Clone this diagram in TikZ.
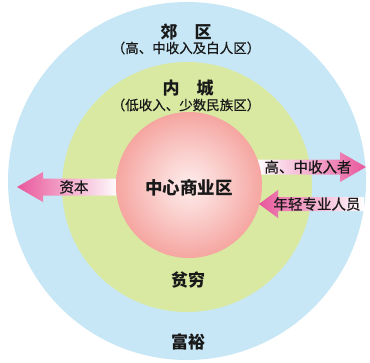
\documentclass[tikz,border=0pt]{standalone}
\usepackage{fontspec}
\newfontfamily\cjk{Noto Sans CJK SC}
\newfontfamily\cjkmoyen[FakeBold=0.6]{Noto Sans CJK SC}
\usetikzlibrary{calc}

\definecolor{bleu}{HTML}{C7E7F6}
\definecolor{vert}{HTML}{D9E9A2}
\definecolor{rouge}{HTML}{EF6A62}
\definecolor{rose}{HTML}{E8579B}
\pgfdeclareradialshading{boule}{\pgfpoint{0bp}{0bp}}{%
  color(0bp)=(rouge!12!white); color(10bp)=(rouge!30!white);
  color(35bp)=(rouge!80!white); color(50bp)=(rouge)}

\begin{document}
\begin{tikzpicture}[x=1pt, y=-1pt, line cap=round,
  titre/.style={inner sep=0pt, text=black!90, font=\cjk\bfseries\fontsize{17}{17}\selectfont},
  soustitre/.style={inner sep=0pt, text=black!90, font=\cjkmoyen\fontsize{13.5}{14}\selectfont},
  fleche/.style={inner sep=0pt, text=black!90, font=\cjkmoyen\fontsize{14.5}{15}\selectfont}]

\useasboundingbox (0,0) rectangle (370,362);
\fill[white] (0,0) rectangle (370,362);

%% Les trois zones.

\fill[bleu] (187,181) circle (179);
\fill[vert] (187,187) circle (125);

%% Les fleches (sous la boule centrale).

\shade[left color=rose, right color=white]
  (17,187) -- (43,172) -- (43,178.5) -- (120,178.5)
  -- (120,195.5) -- (43,195.5) -- (43,202) -- cycle ;
\shade[left color=white, right color=rose]
  (255,159.5) -- (340,159.5) -- (340,152) -- (366,167)
  -- (340,182) -- (340,174.5) -- (255,174.5) -- cycle ;

\shade[shading=boule] (189,185) circle (73);

\shade[left color=rose, right color=white]
  (259,204) -- (278,190) -- (278,197) -- (364,197)
  -- (364,211) -- (278,211) -- (278,218) -- cycle ;

%% Noms des zones.

\node[titre] (jiaoqu) at (186,32) {郊\hspace{1em}区};
\node[soustitre] (jiaoquinfo) at (186,48) {（高、中收入及白人区）};
\node[titre] (neicheng) at (188,88) {内\hspace{1em}城};
\node[soustitre] (neichenginfo) at (186,105) {（低收入、少数民族区）};
\node[titre, font=\cjk\bfseries\fontsize{17.5}{18}\selectfont] (cbd) at (189,188) {中心商业区};
\node[titre] (pinqiong) at (188,280) {贫穷};
\node[titre] (fuyu) at (188,342) {富裕};

%% Textes des fleches.

\node[fleche] (ziben) at (74,187) {资本};
\node[fleche] (gaozhong) at (308,167) {高、中收入者};
\node[fleche] (nianqing) at (317,204) {年轻专业人员};

\end{tikzpicture}
\end{document}
